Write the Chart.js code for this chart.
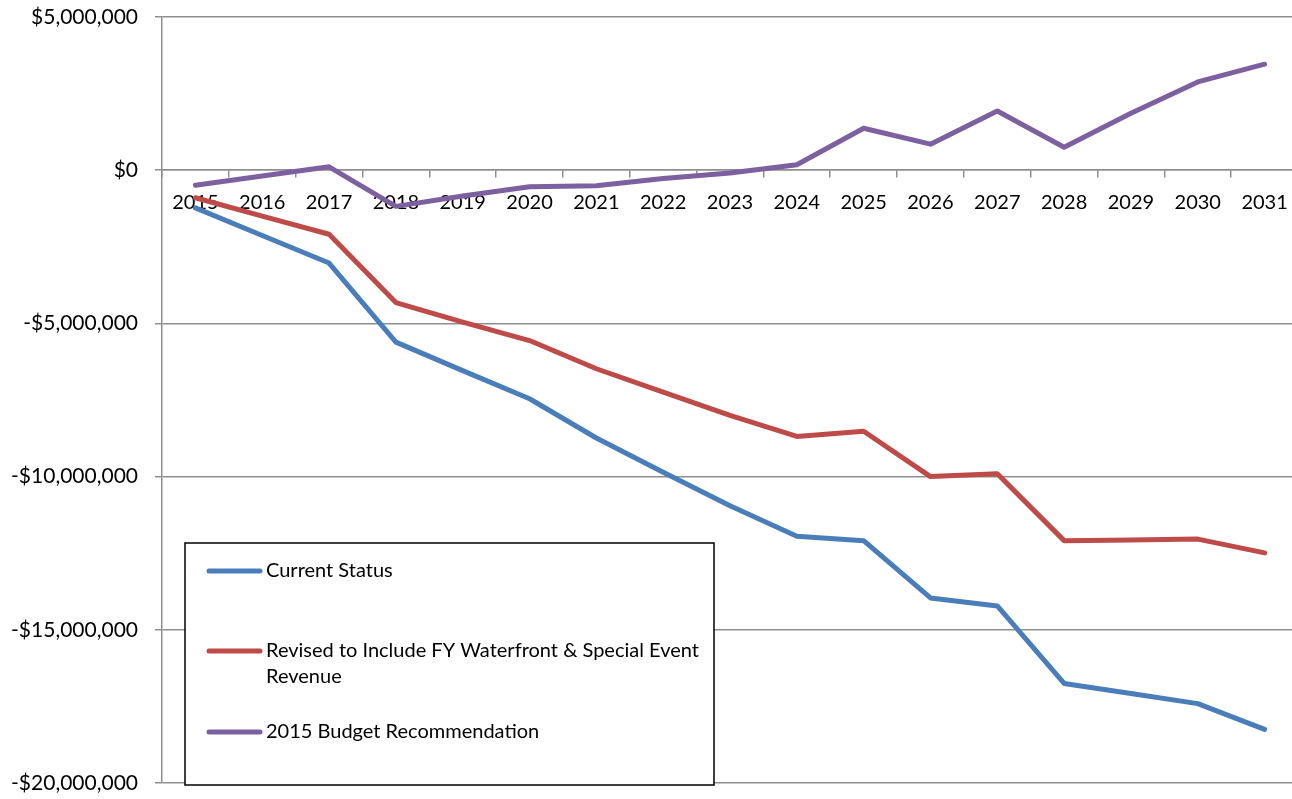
<!DOCTYPE html>
<html>
<head>
<meta charset="utf-8">
<script src="https://cdn.jsdelivr.net/npm/chart.js@4"></script>
<style>
  body { margin: 0; background: #fff; overflow: hidden; }
  #wrap { width: 1303px; height: 799px; position: relative; }
</style>
</head>
<body>
<div id="wrap"><canvas id="myChart"></canvas></div>
<script>
var years = ['2015','2016','2017','2018','2019','2020','2021','2022','2023','2024','2025','2026','2027','2028','2029','2030','2031'];

// dollars
var currentStatus = [-1230000,-2130000,-3030000,-5610000,-6540000,-7460000,-8740000,-9860000,-10950000,-11950000,-12090000,-13960000,-14220000,-16750000,-17080000,-17410000,-18250000];
var revisedRevenue = [-900000,-1500000,-2090000,-4320000,-4960000,-5560000,-6480000,-7240000,-8000000,-8690000,-8520000,-10000000,-9910000,-12090000,-12070000,-12040000,-12490000];
var budgetRec = [-490000,-190000,110000,-1180000,-840000,-540000,-510000,-270000,-90000,180000,1370000,850000,1930000,750000,1860000,2880000,3460000];

var seriesNames = ['Current Status', 'Revised to Include FY Waterfront & Special Event Revenue', '2015 Budget Recommendation'];
var seriesColors = ['#4a7ebb', '#be4b48', '#7d60a0'];

var yTicks = [5000000, 0, -5000000, -10000000, -15000000, -20000000];

var fontFamily = "Lato, 'Open Sans', sans-serif";
var gridColor = '#8f8f8f';

function money(v) {
  var s = '$' + Math.abs(v).toLocaleString('en-US');
  return v < 0 ? '-' + s : s;
}

// legend drawn as a boxed panel inside the plot
var boxLegend = {
  id: 'boxLegend',
  afterDraw: function(chart) {
    var ctx = chart.ctx;
    var left = 185, top = 543, right = 714, bottom = 785;
    var itemY = [571, 651, 732];
    ctx.save();
    ctx.fillStyle = '#fff';
    ctx.fillRect(left, top, right - left, bottom - top);
    ctx.strokeStyle = '#000';
    ctx.lineWidth = 1.5;
    ctx.strokeRect(left, top, right - left, bottom - top);
    ctx.font = '20px ' + fontFamily;
    ctx.textBaseline = 'middle';
    ctx.fillStyle = '#000';
    chart.data.datasets.forEach(function(ds, i) {
      var y = itemY[i];
      ctx.strokeStyle = ds.borderColor;
      ctx.lineWidth = 5;
      ctx.lineCap = 'round';
      ctx.beginPath();
      ctx.moveTo(209, y);
      ctx.lineTo(260, y);
      ctx.stroke();
      // simple word wrap
      var words = ds.label.split(' ');
      var line = '', lines = [];
      words.forEach(function(w) {
        var test = line ? line + ' ' + w : w;
        if (ctx.measureText(test).width > 440 && line) {
          lines.push(line);
          line = w;
        } else {
          line = test;
        }
      });
      lines.push(line);
      lines.forEach(function(t, k) {
        ctx.fillText(t, 266, y + k * 26);
      });
    });
    ctx.restore();
  }
};

var ctx = document.getElementById('myChart').getContext('2d');
var chart = new Chart(ctx, {
  type: 'line',
  data: {
    labels: years,
    datasets: [currentStatus, revisedRevenue, budgetRec].map(function(d, i) {
      return {
        label: seriesNames[i],
        data: d,
        borderColor: seriesColors[i],
        backgroundColor: seriesColors[i],
        borderWidth: 5,
        pointRadius: 0,
        borderCapStyle: 'round',
        borderJoinStyle: 'round',
        tension: 0,
        fill: false
      };
    })
  },
  options: {
    responsive: true,
    maintainAspectRatio: false,
    animation: false,
    layout: { padding: { top: 17, right: 5, bottom: 16, left: 0 } },
    plugins: {
      legend: { display: false },
      tooltip: { enabled: false }
    },
    scales: {
      x: {
        position: { y: 0 },
        offset: true,
        grid: {
          display: true,
          drawOnChartArea: false,
          drawTicks: true,
          tickLength: 7,
          offset: true,
          color: gridColor,
          lineWidth: 1.5
        },
        border: { display: true, color: gridColor, width: 1.5 },
        ticks: {
          color: '#000',
          font: { family: fontFamily, size: 20 },
          padding: 13,
          maxRotation: 0,
          autoSkip: false
        }
      },
      y: {
        min: -20000000,
        max: 5000000,
        afterFit: function(scale) {
          scale.width = 162;
          // labels sit in the page margin, don't reserve room for them
          scale.paddingTop = 0;
          scale.paddingBottom = 0;
        },
        afterBuildTicks: function(scale) {
          scale.ticks = yTicks.map(function(v) { return { value: v }; });
        },
        grid: {
          color: gridColor,
          lineWidth: 1.5,
          tickLength: 7
        },
        border: { display: true, color: gridColor, width: 1.5 },
        ticks: {
          color: '#000',
          font: { family: fontFamily, size: 21 },
          padding: 17,
          callback: function(v) { return money(v); }
        }
      }
    }
  },
  plugins: [boxLegend]
});
</script>
</body>
</html>
